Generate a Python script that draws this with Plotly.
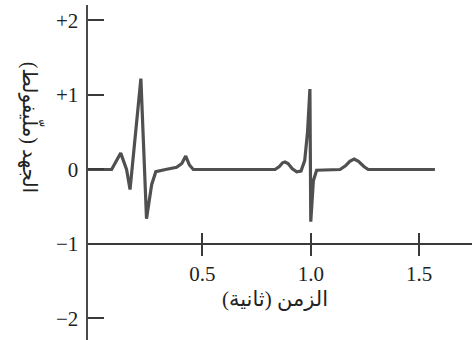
import plotly.graph_objects as go

# ECG trace (time in s, voltage in mV)
time_s = [-0.028, 0.081, 0.100, 0.123, 0.150, 0.166, 0.216, 0.242, 0.266, 0.285,
          0.330, 0.381, 0.405, 0.423, 0.440, 0.458, 0.835, 0.855, 0.870, 0.881,
          0.895, 0.915, 0.935, 0.955, 0.972, 0.985, 0.996, 1.000, 1.012, 1.027,
          1.135, 1.160, 1.180, 1.200, 1.220, 1.245, 1.265, 1.573]
voltage_mv = [0.0, 0.0, 0.10, 0.22, 0.0, -0.27, 1.22, -0.66, -0.20, -0.03,
              0.0, 0.03, 0.08, 0.18, 0.06, 0.0, 0.0, 0.04, 0.09, 0.10,
              0.08, 0.01, -0.03, -0.02, 0.12, 0.50, 1.08, -0.70, -0.15, -0.01,
              0.0, 0.05, 0.11, 0.14, 0.11, 0.04, 0.0, 0.0]

x_tick_vals = [0.5, 1.0, 1.5]
x_tick_text = ["0.5", "1.0", "1.5"]
y_tick_vals = [2, 1, 0, -1, -2]
y_tick_text = ["+2", "+1", "0", "\u22121", "\u22122"]

x_title = "الزمن (ثانية)"
y_title = "الجهد (ملّيفولط)"

X_RANGE = [-0.028, 1.744]
Y_RANGE = [-2.289, 2.208]
x_axis_pos = (-1 - Y_RANGE[0]) / (Y_RANGE[1] - Y_RANGE[0])

SERIF = "Liberation Serif, Times New Roman, DejaVu Serif, DejaVu Sans"
AXC = "#3a3a3a"

fig = go.Figure()
fig.add_trace(go.Scatter(x=time_s, y=voltage_mv, mode="lines",
                         line=dict(color="#505050", width=3.2),
                         showlegend=False, hoverinfo="skip"))
fig.add_trace(go.Scatter(x=time_s, y=voltage_mv, mode="lines", xaxis="x2",
                         line=dict(color="rgba(0,0,0,0)", width=1),
                         showlegend=False, hoverinfo="skip"))

fig.update_layout(
    width=472, height=340,
    margin=dict(l=88, r=0, t=5, b=0),
    paper_bgcolor="white", plot_bgcolor="white",
    xaxis=dict(range=X_RANGE, anchor="free", position=x_axis_pos,
               showgrid=False, zeroline=False, showline=True,
               linecolor=AXC, linewidth=2,
               tickvals=x_tick_vals, ticktext=x_tick_text,
               ticks="outside", ticklen=11, tickwidth=2, tickcolor=AXC,
               tickfont=dict(family=SERIF, size=21, color="#222")),
    xaxis2=dict(range=X_RANGE, overlaying="x", anchor="free", position=x_axis_pos,
                showgrid=False, zeroline=False, showline=False,
                tickvals=x_tick_vals, ticks="inside", ticklen=11, tickwidth=2,
                tickcolor=AXC, showticklabels=False, side="bottom"),
    yaxis=dict(range=Y_RANGE, showgrid=False, zeroline=False, showline=True,
               linecolor="#4a4a4a", linewidth=2.5,
               tickvals=y_tick_vals, ticktext=y_tick_text,
               ticks="inside", ticklen=16, tickwidth=2, tickcolor=AXC,
               ticklabelstandoff=3,
               tickfont=dict(family=SERIF, size=21, color="#222")),
    annotations=[
        dict(text=x_title, xref="paper", yref="paper", x=0.488, y=(340 - 299) / 335,
             showarrow=False, font=dict(family=SERIF, size=21, color="#222"),
             xanchor="center", yanchor="middle"),
        dict(text=y_title, xref="paper", yref="paper", x=-0.145, y=(340 - 128) / 335,
             showarrow=False, textangle=90,
             font=dict(family=SERIF, size=20, color="#222"),
             xanchor="center", yanchor="middle"),
    ],
)

fig.write_html("out.html",
               config={"displayModeBar": False, "staticPlot": True},
               post_script="document.body.style.margin='0';document.body.style.padding='0';")
